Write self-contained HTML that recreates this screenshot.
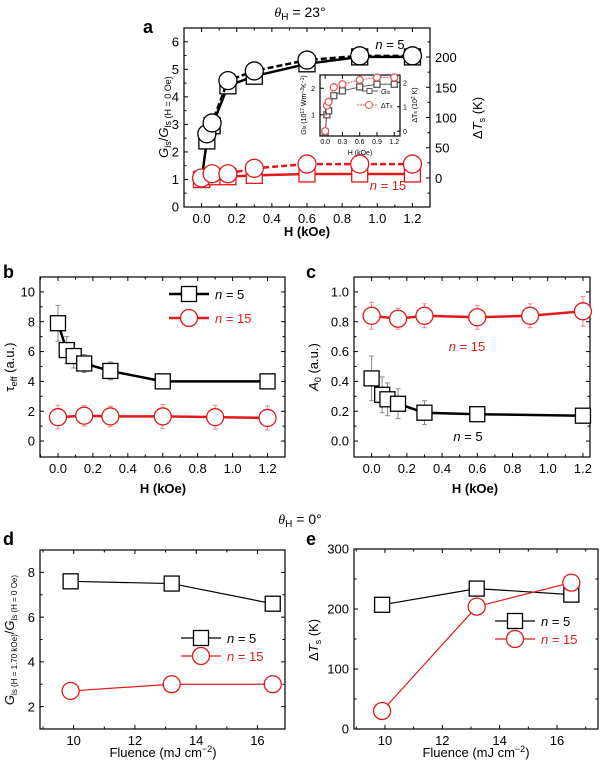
<!DOCTYPE html>
<html><head><meta charset="utf-8"><style>
html,body{margin:0;padding:0;background:#fff;}
svg{display:block;font-family:"Liberation Sans",Arial,sans-serif;}
</style></head><body>
<svg id="fig" width="600" height="766" viewBox="0 0 600 766" xmlns="http://www.w3.org/2000/svg"></svg>
<script>
// Panel a data
const aX = [0, 0.03, 0.06, 0.15, 0.3, 0.6, 0.9, 1.2];
const aBlackG = [1.0, 2.4, 2.95, 4.4, 4.75, 5.2, 5.45, 5.45];
const aBlackT = [0, 73, 91, 161, 177, 195, 202, 202];
const aRedX = [0, 0.06, 0.15, 0.3, 0.6, 0.9, 1.2];
const aRedG = [1.0, 1.1, 1.1, 1.15, 1.2, 1.2, 1.2];
const aRedT = [0, 7, 7, 16, 23, 23, 23];
const insetX = [0, 0.03, 0.06, 0.15, 0.3, 0.6, 0.9, 1.2];
const insetG = [0.35, 1.0, 1.15, 1.72, 1.9, 2.05, 2.15, 2.15];
const insetT = [0, 1.05, 1.2, 1.8, 1.92, 2.1, 2.2, 2.2];
// Panel b data
const bBlackX = [0, 0.05, 0.09, 0.15, 0.3, 0.6, 1.2];
const bBlackY = [7.9, 6.1, 5.7, 5.2, 4.7, 4.0, 4.0];
const bBlackErr = [1.2, 0.9, 0.8, 0.6, 0.6, 0.4, 0.4];
const bRedX = [0, 0.15, 0.3, 0.6, 0.9, 1.2];
const bRedY = [1.6, 1.7, 1.65, 1.65, 1.6, 1.55];
const bRedErr = [0.8, 0.7, 0.7, 0.8, 0.8, 0.8];
// Panel c data
const cRedX = [0, 0.15, 0.3, 0.6, 0.9, 1.2];
const cRedY = [0.84, 0.82, 0.84, 0.83, 0.84, 0.87];
const cRedErr = [0.09, 0.07, 0.08, 0.08, 0.08, 0.1];
const cBlackX = [0, 0.06, 0.09, 0.15, 0.3, 0.6, 1.2];
const cBlackY = [0.42, 0.31, 0.28, 0.25, 0.19, 0.18, 0.17];
const cBlackErr = [0.15, 0.12, 0.11, 0.1, 0.08, 0.05, 0.05];
// Panels d, e data
const fluence = [9.9, 13.2, 16.5];
const dBlack = [7.6, 7.5, 6.6];
const dRed = [2.7, 3.0, 3.0];
const eBlack = [207, 234, 224];
const eRed = [30, 204, 244];
// tick labels
const hTicks = [0, 0.2, 0.4, 0.6, 0.8, 1.0, 1.2];
const fTicks = [10, 12, 14, 16];

const svg = document.getElementById('fig');
const NS = 'http://www.w3.org/2000/svg';
const RED = '#e0191b';
function el(tag, attrs, parent) {
  const e = document.createElementNS(NS, tag);
  for (const k in attrs) e.setAttribute(k, attrs[k]);
  (parent || svg).appendChild(e);
  return e;
}
function txt(x, y, s, opt, parent) {
  const t = el('text', Object.assign({x: x, y: y, 'font-size': 13, fill: '#000', 'text-anchor': 'middle'}, opt || {}), parent);
  t.innerHTML = s;
  return t;
}
function lin(d0, d1, r0, r1) { return v => r0 + (v - d0) * (r1 - r0) / (d1 - d0); }

function frame(name, x0, y0, x1, y1, sx, sy, xt, yt, xfmt, yfmt, opts) {
  const g = el('g', {});
  
  
  el('rect', {x: x0, y: y0, width: x1 - x0, height: y1 - y0, fill: 'none', stroke: '#000', 'stroke-width': 1.2}, g);
  const fs = opts.fs || 13;
  const off = opts.xoff !== undefined ? opts.xoff : fs + 3;
  xt.forEach(v => {
    const X = sx(v);
    el('line', {x1: X, y1: y1, x2: X, y2: y1 - 4, stroke: '#000'}, g);
    el('line', {x1: X, y1: y0, x2: X, y2: y0 + 4, stroke: '#000'}, g);
    const t = txt(X, y1 + off, xfmt(v), {'font-size': fs}, g);
    
    
  });
  (opts.xminor || []).forEach(v => {
    const X = sx(v);
    el('line', {x1: X, y1: y1, x2: X, y2: y1 - 2.5, stroke: '#000'}, g);
    el('line', {x1: X, y1: y0, x2: X, y2: y0 + 2.5, stroke: '#000'}, g);
  });
  yt.forEach(v => {
    const Y = sy(v);
    el('line', {x1: x0, y1: Y, x2: x0 + 4, y2: Y, stroke: '#000'}, g);
    if (!opts.noRightTicks) el('line', {x1: x1, y1: Y, x2: x1 - 4, y2: Y, stroke: '#000'}, g);
    const t = txt(x0 - 5, Y + fs * 0.36, yfmt(v), {'font-size': fs, 'text-anchor': 'end'}, g);
    
    
  });
  (opts.yminor || []).forEach(v => {
    const Y = sy(v);
    el('line', {x1: x0, y1: Y, x2: x0 + 2.5, y2: Y, stroke: '#000'}, g);
    if (!opts.noRightTicks) el('line', {x1: x1, y1: Y, x2: x1 - 2.5, y2: Y, stroke: '#000'}, g);
  });
  return g;
}
function series(name, xs, ys, sx, sy, color, marker, size, lw, dash, errs) {
  const g = el('g', {});
  
  
  if (errs) {
    xs.forEach((x, i) => {
      const X = sx(x), a = sy(ys[i] - errs[i]), b = sy(ys[i] + errs[i]);
      const c = color === RED ? '#e88' : '#888';
      el('line', {x1: X, y1: a, x2: X, y2: b, stroke: c, 'stroke-width': 1}, g);
      el('line', {x1: X - 2.5, y1: a, x2: X + 2.5, y2: a, stroke: c}, g);
      el('line', {x1: X - 2.5, y1: b, x2: X + 2.5, y2: b, stroke: c}, g);
    });
  }
  const pts = xs.map((x, i) => sx(x) + ',' + sy(ys[i])).join(' ');
  const pl = el('polyline', {points: pts, fill: 'none', stroke: color, 'stroke-width': lw}, g);
  if (dash) pl.setAttribute('stroke-dasharray', dash);
  xs.forEach((x, i) => {
    const X = sx(x), Y = sy(ys[i]);
    let m;
    if (marker === 's') m = el('rect', {x: X - size, y: Y - size, width: 2 * size, height: 2 * size, fill: '#fff', stroke: color, 'stroke-width': 1.3}, g);
    else m = el('circle', {cx: X, cy: Y, r: size, fill: '#fff', stroke: color, 'stroke-width': 1.3}, g);
    
    
  });
}
function legend(x, y, marker, color, label, lw, size) {
  const g = el('g', {});
  
  
  el('line', {x1: x, y1: y, x2: x + 40, y2: y, stroke: color, 'stroke-width': lw}, g);
  if (marker === 's') el('rect', {x: x + 20 - size, y: y - size, width: 2 * size, height: 2 * size, fill: '#fff', stroke: color, 'stroke-width': 1.3}, g);
  else el('circle', {cx: x + 20, cy: y, r: size, fill: '#fff', stroke: color, 'stroke-width': 1.3}, g);
  txt(x + 46, y + 5, label, {'text-anchor': 'start', fill: color === RED ? RED : '#000'}, g);
}
function letter(x, y, s) {
  const t = txt(x, y, s, {'font-size': 18, 'font-weight': 'bold', 'text-anchor': 'start'});
  
  
}
const f1 = v => v.toFixed(1);
const f0 = v => String(v);
const hMinor = [-0.1, 0.1, 0.3, 0.5, 0.7, 0.9, 1.1, 1.3];

// Titles
let t = txt(300, 17, '<tspan font-style="italic" font-family="Liberation Serif">θ</tspan><tspan font-size="10" dy="3">H</tspan><tspan dy="-3"> = 23°</tspan>', {'font-size': 14});
 
t = txt(300, 524, '<tspan font-style="italic" font-family="Liberation Serif">θ</tspan><tspan font-size="10" dy="3">H</tspan><tspan dy="-3"> = 0°</tspan>', {'font-size': 14});
 

// ===== Panel a =====
{
  const x0 = 184, x1 = 430, y0 = 28, y1 = 207;
  const sx = lin(-0.1, 1.3, x0, x1), sy = lin(0, 6.5, y1, y0);
  const syT = lin(-48, 248, y1, y0);
  frame('panel-a-axes', x0, y0, x1, y1, sx, sy, hTicks, [0, 1, 2, 3, 4, 5, 6], f1, f0, {xminor: hMinor, noRightTicks: true, yminor: [0.5,1.5,2.5,3.5,4.5,5.5]});
  [0, 50, 100, 150, 200].forEach(v => {
    const Y = syT(v);
    el('line', {x1: x1, y1: Y, x2: x1 - 4, y2: Y, stroke: '#000'});
    const tt = txt(x1 + 5, Y + 5, f0(v), {'text-anchor': 'start'});
     
  });
  [-25, 25, 75, 125, 175, 225].forEach(v => { const Y = syT(v); el('line', {x1: x1, y1: Y, x2: x1 - 2.5, y2: Y, stroke: '#000'}); });
  series('a-black-gls', aX, aBlackG, sx, sy, '#000', 's', 8, 2.5, null);
  series('a-black-dt', aX.slice(1), aBlackT.slice(1), sx, syT, '#000', 'c', 9, 2.5, '6,3');
  series('a-red-gls', aRedX, aRedG, sx, sy, RED, 's', 8, 2.5, null);
  series('a-red-dt', aRedX, aRedT, sx, syT, RED, 'c', 9, 2.5, '6,3');
  t = txt(390, 49, '<tspan font-style="italic">n</tspan> = 5', {});  
  t = txt(388, 190, '<tspan font-style="italic">n</tspan> = 15', {fill: RED});  
  t = txt(143, 117, '<tspan font-style="italic">G</tspan><tspan font-size="9" dy="3">ls</tspan><tspan dy="-3">/</tspan><tspan font-style="italic">G</tspan><tspan font-size="9" dy="3">ls (H = 0 Oe)</tspan>', {transform: 'rotate(-90 168 117)', x: 168});
   
  t = txt(0, 0, 'Δ<tspan font-style="italic">T</tspan><tspan font-size="9" dy="3">s</tspan><tspan dy="-3"> (K)</tspan>', {transform: 'translate(482 118) rotate(-90)'});
   
  t = txt(307, 236, 'H (kOe)', {'font-weight': 'bold'});  
  // inset
  const ix0 = 320, ix1 = 400, iy0 = 75, iy1 = 136;
  const isx = lin(-0.09, 1.3, ix0, ix1), isyR = lin(-0.2, 2.3, iy1, iy0);
  const isyL = lin(0.2, 2.5, iy1, iy0);
  frame('inset-axes', ix0, iy0, ix1, iy1, isx, isyL, [0, 0.3, 0.6, 0.9, 1.2], [1, 2], f1, f0, {fs: 7, xoff: 8, noRightTicks: true});
  [0, 1, 2].forEach(v => { const Y = isyR(v); el('line', {x1: ix1, y1: Y, x2: ix1 - 3, y2: Y, stroke: '#000'}); txt(ix1 + 3, Y + 3, f0(v), {'font-size': 7, 'text-anchor': 'start'}); });
  series('inset-gls', insetX, insetG, isx, isyL, '#555', 's', 3, 1, null);
  series('inset-dt', insetX, insetT, isx, isyR, '#e06060', 'c', 3.5, 1, '2,1');
  el('line', {x1: 362, y1: 91, x2: 378, y2: 91, stroke: '#555'}); el('rect', {x: 367, y: 88.5, width: 5, height: 5, fill: '#fff', stroke: '#555'});
  txt(381, 94, '<tspan font-style="italic">G</tspan><tspan font-size="5">ls</tspan>', {'font-size': 7, 'text-anchor': 'start'});
  el('line', {x1: 357, y1: 105, x2: 378, y2: 105, stroke: '#e06060', 'stroke-dasharray': '2,1'}); el('circle', {cx: 369, cy: 105, r: 3.5, fill: '#fff', stroke: '#e06060'});
  txt(381, 108, 'ΔT<tspan font-size="5">s</tspan>', {'font-size': 7, 'text-anchor': 'start'});
  txt(360, 155, 'H (kOe)', {'font-size': 7});
  txt(0, 0, '<tspan font-style="italic">G</tspan><tspan font-size="5">ls</tspan> (10<tspan font-size="5" dy="-2">17</tspan><tspan dy="2"> Wm</tspan><tspan font-size="5" dy="-2">−3</tspan><tspan dy="2">K</tspan><tspan font-size="5" dy="-2">−1</tspan><tspan dy="2">)</tspan>', {'font-size': 7, transform: 'translate(306 105) rotate(-90)'});
  txt(0, 0, 'ΔT<tspan font-size="5">s</tspan> (10<tspan font-size="5" dy="-2">2</tspan><tspan dy="2"> K)</tspan>', {'font-size': 7, transform: 'translate(417 105) rotate(-90)'});
}

// ===== Panel b =====
{
  const x0 = 40, x1 = 285, y0 = 277, y1 = 457;
  const sx = lin(-0.103, 1.3, x0, x1), sy = lin(-1.07, 11, y1, y0);
  frame('panel-b-axes', x0, y0, x1, y1, sx, sy, hTicks, [0, 2, 4, 6, 8, 10], f1, f0, {xminor: hMinor, yminor: [1, 3, 5, 7, 9]});
  series('b-n5', bBlackX, bBlackY, sx, sy, '#000', 's', 7.5, 2.5, null, bBlackErr);
  series('b-n15', bRedX, bRedY, sx, sy, RED, 'c', 8.5, 2.5, null, bRedErr);
  legend(169, 294, 's', '#000', '<tspan font-style="italic">n</tspan> = 5', 2.5, 7.5);
  legend(169, 318, 'c', RED, '<tspan font-style="italic">n</tspan> = 15', 2.5, 8.5);
  t = txt(0, 0, 'τ<tspan font-size="9" dy="3">eff</tspan><tspan dy="-3"> (a.u.)</tspan>', {transform: 'translate(14 367) rotate(-90)'});
   
  t = txt(163, 493, 'H (kOe)', {'font-weight': 'bold'});  
}

// ===== Panel c =====
{
  const x0 = 354, x1 = 590, y0 = 277, y1 = 457;
  const sx = lin(-0.1, 1.24, x0, x1), sy = lin(-0.107, 1.1, y1, y0);
  frame('panel-c-axes', x0, y0, x1, y1, sx, sy, hTicks, [0, 0.2, 0.4, 0.6, 0.8, 1.0], f1, f1, {xminor: hMinor.slice(0, 7), yminor: [0.1, 0.3, 0.5, 0.7, 0.9]});
  series('c-n15', cRedX, cRedY, sx, sy, RED, 'c', 8.5, 2.5, null, cRedErr);
  series('c-n5', cBlackX, cBlackY, sx, sy, '#000', 's', 7.5, 2.5, null, cBlackErr);
  t = txt(467, 351, '<tspan font-style="italic">n</tspan> = 15', {fill: RED});  
  t = txt(468, 441, '<tspan font-style="italic">n</tspan> = 5', {});  
  t = txt(0, 0, '<tspan font-style="italic">A</tspan><tspan font-size="9" dy="3">0</tspan><tspan dy="-3"> (a.u.)</tspan>', {transform: 'translate(318 367) rotate(-90)'});
   
  t = txt(475, 493, 'H (kOe)', {'font-weight': 'bold'});  
}

// ===== Panel d =====
{
  const x0 = 40, x1 = 285, y0 = 550, y1 = 729;
  const sx = lin(8.9, 16.9, x0, x1), sy = lin(1.0, 9.0, y1, y0);
  frame('panel-d-axes', x0, y0, x1, y1, sx, sy, fTicks, [2, 4, 6, 8], f0, f0, {xminor: [9, 11, 13, 15], yminor: [1, 3, 5, 7, 9]});
  series('d-n5', fluence, dBlack, sx, sy, '#000', 's', 7.5, 1.2, null);
  series('d-n15', fluence, dRed, sx, sy, RED, 'c', 8.5, 1.2, null);
  legend(181, 638, 's', '#000', '<tspan font-style="italic">n</tspan> = 5', 1.2, 7.5);
  legend(181, 656, 'c', RED, '<tspan font-style="italic">n</tspan> = 15', 1.2, 8.5);
  t = txt(0, 0, '<tspan font-style="italic">G</tspan><tspan font-size="8" dy="3">ls (H = 1.70 kOe)</tspan><tspan dy="-3">/</tspan><tspan font-style="italic">G</tspan><tspan font-size="8" dy="3">ls (H = 0 Oe)</tspan>', {transform: 'translate(14 640) rotate(-90)'});
   
  t = txt(163, 757, 'Fluence (mJ cm<tspan font-size="9" dy="-5">−2</tspan><tspan dy="5">)</tspan>', {});  
}

// ===== Panel e =====
{
  const x0 = 354, x1 = 598, y0 = 549, y1 = 729;
  const sx = lin(8.92, 17.43, x0, x1), sy = lin(0, 300, y1, y0);
  frame('panel-e-axes', x0, y0, x1, y1, sx, sy, fTicks, [0, 100, 200, 300], f0, f0, {xminor: [9, 11, 13, 15, 17], yminor: [50, 150, 250]});
  series('e-n5', fluence, eBlack, sx, sy, '#000', 's', 7.5, 1.2, null);
  series('e-n15', fluence, eRed, sx, sy, RED, 'c', 8.5, 1.2, null);
  legend(495, 621, 's', '#000', '<tspan font-style="italic">n</tspan> = 5', 1.2, 7.5);
  legend(495, 639, 'c', RED, '<tspan font-style="italic">n</tspan> = 15', 1.2, 8.5);
  t = txt(0, 0, 'Δ<tspan font-style="italic">T</tspan><tspan font-size="9" dy="3">s</tspan><tspan dy="-3"> (K)</tspan>', {transform: 'translate(318 640) rotate(-90)'});
   
  t = txt(476, 757, 'Fluence (mJ cm<tspan font-size="9" dy="-5">−2</tspan><tspan dy="5">)</tspan>', {});  
}

letter(143, 33, 'a');
letter(3, 278, 'b');
letter(306, 278, 'c');
letter(3, 545, 'd');
letter(306, 545, 'e');
</script>
</body></html>
